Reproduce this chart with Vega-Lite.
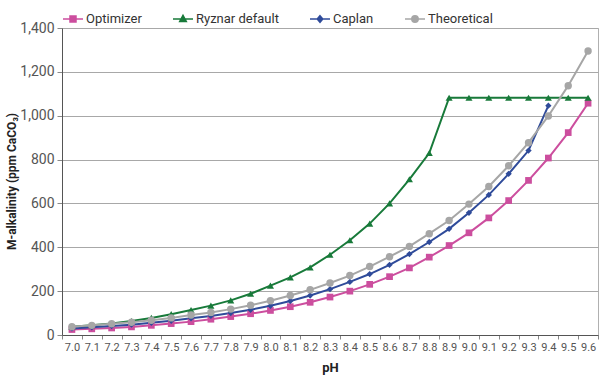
{
  "$schema": "https://vega.github.io/schema/vega-lite/v6.json",
  "width": 536,
  "height": 307,
  "autosize": {"type": "none"},
  "padding": {"left": 62, "top": 28, "right": 2, "bottom": 40},
  "background": "white",
  "config": {
    "font": "Roboto, sans-serif",
    "view": {"stroke": "#b0b0b0", "strokeWidth": 1}
  },
  "data": {
    "values": [
      {"pH": "7.0", "series": "Optimizer", "v": 25}, {"pH": "7.1", "series": "Optimizer", "v": 28}, {"pH": "7.2", "series": "Optimizer", "v": 32}, {"pH": "7.3", "series": "Optimizer", "v": 37}, {"pH": "7.4", "series": "Optimizer", "v": 44}, {"pH": "7.5", "series": "Optimizer", "v": 52}, {"pH": "7.6", "series": "Optimizer", "v": 61}, {"pH": "7.7", "series": "Optimizer", "v": 72}, {"pH": "7.8", "series": "Optimizer", "v": 84}, {"pH": "7.9", "series": "Optimizer", "v": 97}, {"pH": "8.0", "series": "Optimizer", "v": 112}, {"pH": "8.1", "series": "Optimizer", "v": 129}, {"pH": "8.2", "series": "Optimizer", "v": 149}, {"pH": "8.3", "series": "Optimizer", "v": 173}, {"pH": "8.4", "series": "Optimizer", "v": 200}, {"pH": "8.5", "series": "Optimizer", "v": 231}, {"pH": "8.6", "series": "Optimizer", "v": 266}, {"pH": "8.7", "series": "Optimizer", "v": 306}, {"pH": "8.8", "series": "Optimizer", "v": 355}, {"pH": "8.9", "series": "Optimizer", "v": 408}, {"pH": "9.0", "series": "Optimizer", "v": 466}, {"pH": "9.1", "series": "Optimizer", "v": 534}, {"pH": "9.2", "series": "Optimizer", "v": 613}, {"pH": "9.3", "series": "Optimizer", "v": 705}, {"pH": "9.4", "series": "Optimizer", "v": 807}, {"pH": "9.5", "series": "Optimizer", "v": 923}, {"pH": "9.6", "series": "Optimizer", "v": 1057},
      {"pH": "7.0", "series": "Ryznar default", "v": 38}, {"pH": "7.1", "series": "Ryznar default", "v": 45}, {"pH": "7.2", "series": "Ryznar default", "v": 53}, {"pH": "7.3", "series": "Ryznar default", "v": 64}, {"pH": "7.4", "series": "Ryznar default", "v": 78}, {"pH": "7.5", "series": "Ryznar default", "v": 95}, {"pH": "7.6", "series": "Ryznar default", "v": 114}, {"pH": "7.7", "series": "Ryznar default", "v": 134}, {"pH": "7.8", "series": "Ryznar default", "v": 158}, {"pH": "7.9", "series": "Ryznar default", "v": 188}, {"pH": "8.0", "series": "Ryznar default", "v": 225}, {"pH": "8.1", "series": "Ryznar default", "v": 263}, {"pH": "8.2", "series": "Ryznar default", "v": 308}, {"pH": "8.3", "series": "Ryznar default", "v": 366}, {"pH": "8.4", "series": "Ryznar default", "v": 432}, {"pH": "8.5", "series": "Ryznar default", "v": 508}, {"pH": "8.6", "series": "Ryznar default", "v": 600}, {"pH": "8.7", "series": "Ryznar default", "v": 710}, {"pH": "8.8", "series": "Ryznar default", "v": 830}, {"pH": "8.9", "series": "Ryznar default", "v": 1082}, {"pH": "9.0", "series": "Ryznar default", "v": 1082}, {"pH": "9.1", "series": "Ryznar default", "v": 1082}, {"pH": "9.2", "series": "Ryznar default", "v": 1082}, {"pH": "9.3", "series": "Ryznar default", "v": 1082}, {"pH": "9.4", "series": "Ryznar default", "v": 1082}, {"pH": "9.5", "series": "Ryznar default", "v": 1082}, {"pH": "9.6", "series": "Ryznar default", "v": 1082},
      {"pH": "7.0", "series": "Caplan", "v": 30}, {"pH": "7.1", "series": "Caplan", "v": 35}, {"pH": "7.2", "series": "Caplan", "v": 41}, {"pH": "7.3", "series": "Caplan", "v": 47}, {"pH": "7.4", "series": "Caplan", "v": 56}, {"pH": "7.5", "series": "Caplan", "v": 65}, {"pH": "7.6", "series": "Caplan", "v": 76}, {"pH": "7.7", "series": "Caplan", "v": 87}, {"pH": "7.8", "series": "Caplan", "v": 100}, {"pH": "7.9", "series": "Caplan", "v": 115}, {"pH": "8.0", "series": "Caplan", "v": 133}, {"pH": "8.1", "series": "Caplan", "v": 155}, {"pH": "8.2", "series": "Caplan", "v": 180}, {"pH": "8.3", "series": "Caplan", "v": 209}, {"pH": "8.4", "series": "Caplan", "v": 242}, {"pH": "8.5", "series": "Caplan", "v": 278}, {"pH": "8.6", "series": "Caplan", "v": 320}, {"pH": "8.7", "series": "Caplan", "v": 369}, {"pH": "8.8", "series": "Caplan", "v": 424}, {"pH": "8.9", "series": "Caplan", "v": 484}, {"pH": "9.0", "series": "Caplan", "v": 557}, {"pH": "9.1", "series": "Caplan", "v": 639}, {"pH": "9.2", "series": "Caplan", "v": 735}, {"pH": "9.3", "series": "Caplan", "v": 841}, {"pH": "9.4", "series": "Caplan", "v": 1046},
      {"pH": "7.0", "series": "Theoretical", "v": 38}, {"pH": "7.1", "series": "Theoretical", "v": 44}, {"pH": "7.2", "series": "Theoretical", "v": 51}, {"pH": "7.3", "series": "Theoretical", "v": 58}, {"pH": "7.4", "series": "Theoretical", "v": 67}, {"pH": "7.5", "series": "Theoretical", "v": 78}, {"pH": "7.6", "series": "Theoretical", "v": 91}, {"pH": "7.7", "series": "Theoretical", "v": 103}, {"pH": "7.8", "series": "Theoretical", "v": 118}, {"pH": "7.9", "series": "Theoretical", "v": 136}, {"pH": "8.0", "series": "Theoretical", "v": 156}, {"pH": "8.1", "series": "Theoretical", "v": 180}, {"pH": "8.2", "series": "Theoretical", "v": 206}, {"pH": "8.3", "series": "Theoretical", "v": 237}, {"pH": "8.4", "series": "Theoretical", "v": 271}, {"pH": "8.5", "series": "Theoretical", "v": 312}, {"pH": "8.6", "series": "Theoretical", "v": 357}, {"pH": "8.7", "series": "Theoretical", "v": 404}, {"pH": "8.8", "series": "Theoretical", "v": 462}, {"pH": "8.9", "series": "Theoretical", "v": 522}, {"pH": "9.0", "series": "Theoretical", "v": 597}, {"pH": "9.1", "series": "Theoretical", "v": 677}, {"pH": "9.2", "series": "Theoretical", "v": 772}, {"pH": "9.3", "series": "Theoretical", "v": 877}, {"pH": "9.4", "series": "Theoretical", "v": 999}, {"pH": "9.5", "series": "Theoretical", "v": 1137}, {"pH": "9.6", "series": "Theoretical", "v": 1295}
    ]
  },
  "encoding": {
    "x": {
      "field": "pH", "type": "ordinal", "bandPosition": 0.5,
      "scale": {"type": "band", "paddingInner": 0, "paddingOuter": 0},
      "axis": {
        "title": "pH", "labelAngle": 0, "tickBand": "extent",
        "labelFontSize": 11, "labelColor": "#555555", "labelPadding": 2,
        "tickSize": 4, "tickColor": "#888888", "domainColor": "#555555",
        "titleFontSize": 13, "titleFontWeight": "bold", "titleColor": "#222222",
        "titlePadding": 9
      }
    },
    "y": {
      "field": "v", "type": "quantitative",
      "scale": {"domain": [0, 1400]},
      "axis": {
        "title": "M-alkalinity (ppm CaCO₃)", "values": [0, 200, 400, 600, 800, 1000, 1200, 1400],
        "format": ",d", "labelFontSize": 14, "labelColor": "#555555", "labelPadding": 3,
        "tickSize": 5, "tickColor": "#888888", "domainColor": "#555555",
        "gridColor": "#a8a8a8", "gridWidth": 1,
        "titleFontSize": 12, "titleFontWeight": "bold", "titleColor": "#222222",
        "titleX": -44, "titleY": 153
      }
    },
    "color": {
      "field": "series", "type": "nominal",
      "scale": {"domain": ["Optimizer", "Ryznar default", "Caplan", "Theoretical"], "range": ["#cc4e9e", "#187a3a", "#2f4b9a", "#a6a6a6"]},
      "legend": {
        "title": null, "orient": "none", "direction": "horizontal", "legendX": 0, "legendY": -20,
        "symbolSize": 400, "symbolStrokeWidth": 1.5, "symbolOpacity": 1,
        "labelFontSize": 13, "labelColor": "#333333", "labelOffset": 2, "columnPadding": 28
      }
    }
  },
  "layer": [
    {"mark": {"type": "line", "strokeWidth": 2}},
    {"transform": [{"filter": "datum.series === 'Optimizer'"}], "mark": {"type": "point", "shape": "square", "filled": true, "size": 45, "opacity": 1}},
    {"transform": [{"filter": "datum.series === 'Ryznar default'"}], "mark": {"type": "point", "shape": "triangle-up", "filled": true, "size": 50, "opacity": 1}},
    {"transform": [{"filter": "datum.series === 'Caplan'"}], "mark": {"type": "point", "shape": "diamond", "filled": true, "size": 40, "opacity": 1}},
    {"transform": [{"filter": "datum.series === 'Theoretical'"}], "mark": {"type": "point", "shape": "circle", "filled": true, "size": 55, "opacity": 1}},
    {
      "transform": [{"filter": "datum.v < 0"}],
      "mark": {"type": "point", "filled": true, "opacity": 1},
      "encoding": {
        "shape": {
          "field": "series", "type": "nominal",
          "scale": {"domain": ["Optimizer", "Ryznar default", "Caplan", "Theoretical"], "range": ["M-1,0H1M-0.3,-0.3H0.3V0.3H-0.3Z", "M-1,0H1M0,-0.36L0.33,0.24H-0.33Z", "M-1,0H1M0,-0.33L0.28,0L0,0.33L-0.28,0Z", "M-1,0H1M0.32,0A0.32,0.32,0,1,1,-0.32,0A0.32,0.32,0,1,1,0.32,0Z"]},
          "legend": {
            "title": null, "orient": "none", "direction": "horizontal", "legendX": 0, "legendY": -20,
            "symbolSize": 400, "symbolStrokeWidth": 1.5, "symbolOpacity": 1,
            "labelFontSize": 13, "labelColor": "#333333", "labelOffset": 2, "columnPadding": 28
          }
        }
      }
    }
  ]
}
